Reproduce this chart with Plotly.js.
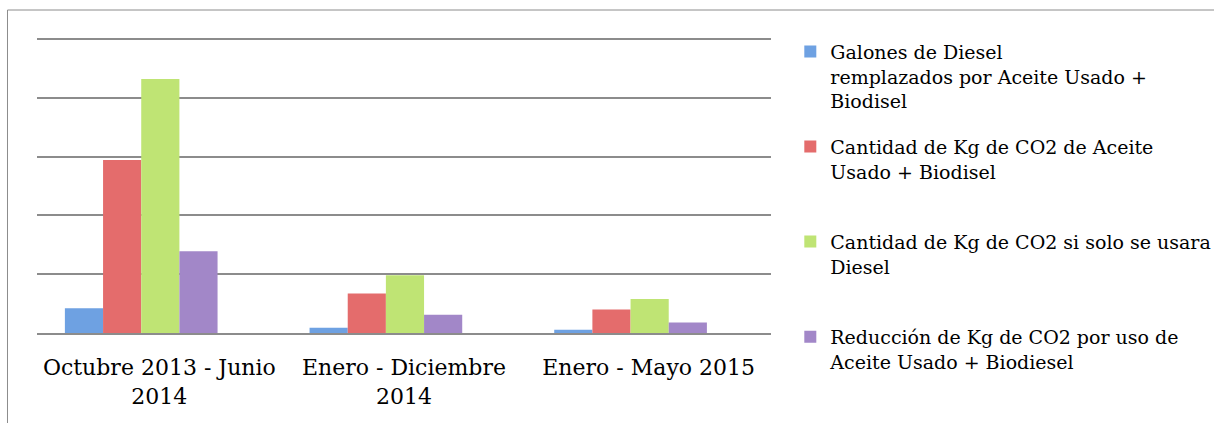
<!DOCTYPE html>
<html>
<head>
<meta charset="utf-8">
<script src="https://cdn.plot.ly/plotly-3.0.1.min.js"></script>
<style>
  html, body { margin: 0; padding: 0; background: #fff; }
  #chart { width: 1214px; height: 423px; }
</style>
</head>
<body>
<div id="chart"></div>
<script>
// ---- data ----
const categories = ["Octubre 2013 - Junio<br>2014", "Enero - Diciembre<br>2014", "Enero - Mayo 2015"];
const seriesNames = [
  "Galones de Diesel<br>remplazados por Aceite Usado +<br>Biodisel",
  "Cantidad de Kg de CO2 de Aceite<br>Usado + Biodisel<br>\u00a0",
  "Cantidad de Kg de CO2 si solo se usara<br>Diesel<br>\u00a0",
  "Reducción de Kg de CO2 por uso de<br>Aceite Usado + Biodiesel"
];
const galonesDiesel = [2100, 450, 280];
const co2AceiteBiodisel = [14700, 3350, 2000];
const co2SoloDiesel = [21600, 4900, 2900];
const reduccionCO2 = [6950, 1550, 900];

// ---- styles ----
const colors = ["#6ea1e2", "#e46c6c", "#bfe474", "#a287c8"];
const barWidth = 0.156;
const barOffsets = [-0.386, -0.230, -0.074, 0.082];

const W = 1214, H = 423;
const gridTopPx = 39.3, basePx = 332.7;
const gridMax = 25000, rangeMax = 25500;
const topPx = basePx - (basePx - gridTopPx) * rangeMax / gridMax;
const M = { l: 37, r: W - 770.7, t: topPx, b: H - basePx };
const pw = W - M.l - M.r, ph = H - M.t - M.b;
const px2x = x => (x - M.l) / pw;
const py2y = y => (H - M.b - y) / ph;

const allSeries = [galonesDiesel, co2AceiteBiodisel, co2SoloDiesel, reduccionCO2];
const traces = allSeries.map((vals, i) => ({
  type: "bar",
  x: categories,
  y: vals,
  name: seriesNames[i],
  legendgroup: "g" + i,
  marker: { color: colors[i], line: { width: 0 } },
  width: barWidth,
  offset: barOffsets[i],
  hoverinfo: "x+y"
}));

const layout = {
  width: W, height: H,
  margin: { l: M.l, r: M.r, t: M.t, b: M.b, autoexpand: false },
  paper_bgcolor: "#ffffff",
  plot_bgcolor: "#ffffff",
  font: { family: "DejaVu Serif, serif", color: "#000000" },
  barmode: "group",
  showlegend: true,
  legend: {
    x: px2x(790), xanchor: "left",
    y: py2y(33), yanchor: "top",
    font: { family: "DejaVu Serif, serif", size: 19, color: "#000000" },
    valign: "top",
    tracegroupgap: 18,
    maxheight: 400,
    bgcolor: "rgba(0,0,0,0)"
  },
  xaxis: {
    type: "category",
    range: [-0.5, 2.5],
    showgrid: false,
    zeroline: false,
    showline: true,
    linecolor: "#8c8c8c",
    linewidth: 2,
    ticks: "",
    tickfont: { family: "DejaVu Serif, serif", size: 22, color: "#000000" },
    ticklabelstandoff: 14,
    fixedrange: true
  },
  yaxis: {
    range: [0, rangeMax],
    tick0: 0,
    dtick: 5000,
    showticklabels: false,
    showgrid: true,
    gridcolor: "#8c8c8c",
    gridwidth: 2,
    zeroline: false,
    showline: false,
    ticks: "",
    fixedrange: true
  },
  shapes: [{
    type: "rect", xref: "paper", yref: "paper",
    x0: px2x(7.5), x1: px2x(W + 20),
    y0: py2y(H + 20), y1: py2y(10.5),
    line: { color: "#8c8c8c", width: 1 },
    fillcolor: "rgba(0,0,0,0)",
    layer: "below"
  }]
};

Plotly.newPlot("chart", traces, layout, { displayModeBar: false, staticPlot: true });
</script>
</body>
</html>
